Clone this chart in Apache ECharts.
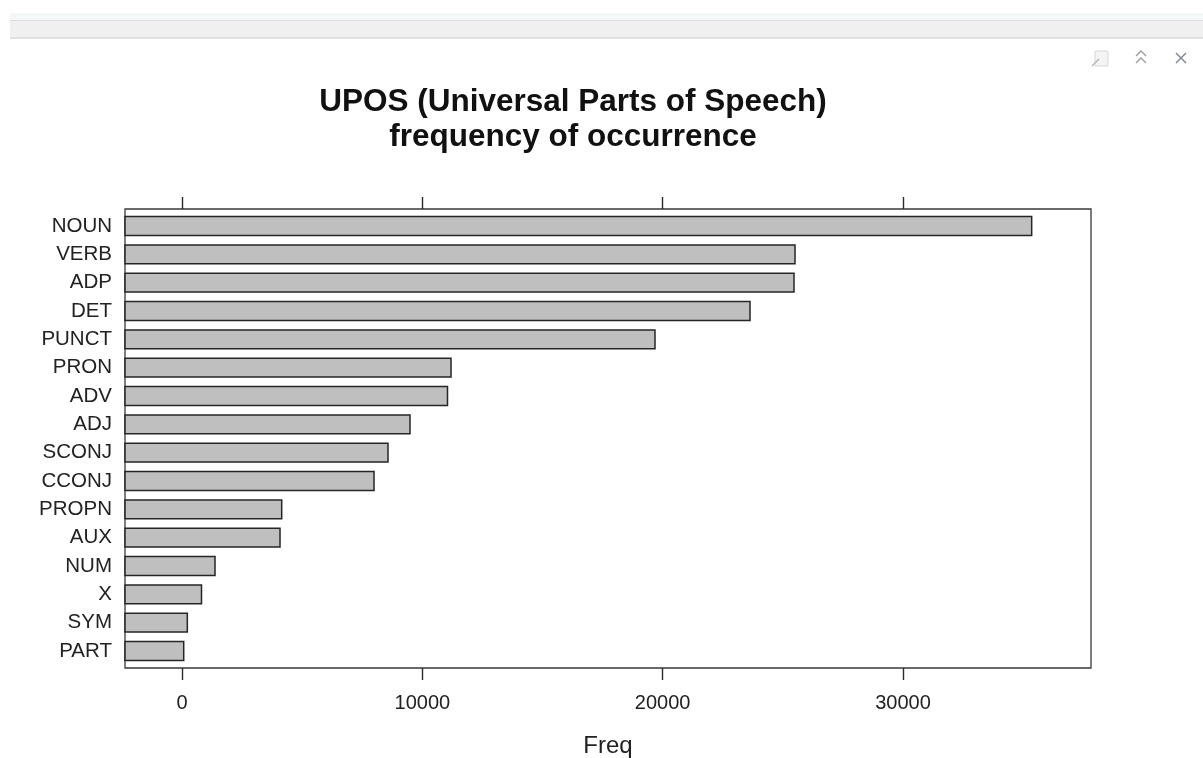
<!DOCTYPE html>
<html>
<head>
<meta charset="utf-8">
<title>UPOS frequency of occurrence</title>
<script src="https://cdn.jsdelivr.net/npm/echarts@6/dist/echarts.min.js"></script>
<style>
  html, body { margin: 0; padding: 0; background: #ffffff; }
  #chart { width: 1203px; height: 758px; }
</style>
</head>
<body>
<div id="chart"></div>
<script>
// Part-of-speech tags, top to bottom
const categories = ['NOUN', 'VERB', 'ADP', 'DET', 'PUNCT', 'PRON', 'ADV', 'ADJ',
  'SCONJ', 'CCONJ', 'PROPN', 'AUX', 'NUM', 'X', 'SYM', 'PART'];
// Token counts per tag
const freq = [35355, 25507, 25465, 23634, 19681, 11193, 11047, 9487,
  8571, 7989, 4148, 4078, 1373, 811, 221, 71];
// Tick marks on the Freq axis
const freqTicks = [0, 10000, 20000, 30000];
// Panel limits of the Freq axis
const freqMin = -2372;
const freqMax = 37823;

const FONT = '"Liberation Sans", Arial, Helvetica, sans-serif';

const chart = echarts.init(document.getElementById('chart'), null, { renderer: 'canvas' });

const panel = { left: 125, top: 209, width: 966, height: 459 };
// lattice pads the category scale by 0.6 of a row at each end
const rowUnit = panel.height / (categories.length + 0.2);
const barPanel = {
  left: panel.left,
  width: panel.width,
  top: panel.top + 0.1 * rowUnit,
  height: panel.height - 0.2 * rowUnit
};

const tickStyle = { show: true, inside: false, length: 12, customValues: freqTicks, lineStyle: { color: '#2a2a2a', width: 1.4 } };

const option = {
  backgroundColor: '#ffffff',
  animation: false,
  title: {
    text: 'UPOS (Universal Parts of Speech)\nfrequency of occurrence',
    left: 568,
    top: 80,
    textAlign: 'center',
    textStyle: {
      fontFamily: FONT,
      fontWeight: 'bold',
      fontSize: 31.5,
      lineHeight: 35,
      color: '#111'
    }
  },
  grid: [
    Object.assign({ show: true, borderColor: '#3a3a3a', borderWidth: 1.3, backgroundColor: 'transparent',
      containLabel: false, outerBoundsMode: 'none' }, panel),
    Object.assign({ show: false, containLabel: false, outerBoundsMode: 'none' }, barPanel)
  ],
  xAxis: [
    {
      gridIndex: 0, type: 'value', position: 'bottom', min: freqMin, max: freqMax,
      axisLine: { show: false },
      splitLine: { show: false },
      axisTick: tickStyle,
      axisLabel: {
        show: true, margin: 25, customValues: freqTicks,
        formatter: v => String(v),
        color: '#222', fontFamily: FONT, fontSize: 20
      },
      name: 'Freq',
      nameLocation: 'middle',
      nameGap: 66,
      nameTextStyle: { fontFamily: FONT, fontSize: 24, color: '#222' }
    },
    {
      gridIndex: 0, type: 'value', position: 'top', min: freqMin, max: freqMax,
      axisLine: { show: false },
      splitLine: { show: false },
      axisTick: tickStyle,
      axisLabel: { show: false }
    },
    {
      gridIndex: 1, type: 'value', min: freqMin, max: freqMax, show: false
    }
  ],
  yAxis: [
    { gridIndex: 0, type: 'value', min: 0, max: 1, show: false },
    {
      gridIndex: 1, type: 'category', data: categories, inverse: true,
      axisLine: { show: false },
      axisTick: { show: false },
      splitLine: { show: false },
      axisLabel: { margin: 13, color: '#222', fontFamily: FONT, fontSize: 20.5 }
    }
  ],
  series: [
    {
      type: 'custom',
      name: 'Freq',
      xAxisIndex: 2,
      yAxisIndex: 1,
      data: freq.map((v, i) => [v, i]),
      encode: { x: 0, y: 1 },
      renderItem: function (params, api) {
        const cat = api.value(1);
        const end = api.coord([api.value(0), cat]);
        const start = api.coord([freqMin, cat]);
        const h = api.size([0, 1])[1] * 2 / 3;
        return {
          type: 'rect',
          shape: { x: start[0], y: end[1] - h / 2, width: end[0] - start[0], height: h },
          style: { fill: '#bfbfbf', stroke: '#262626', lineWidth: 1.5 }
        };
      }
    }
  ],
  graphic: [
    // viewer toolbar strip
    { type: 'rect', silent: true, shape: { x: 10, y: 13, width: 1193, height: 7 }, style: { fill: '#f4f7f8' } },
    { type: 'rect', silent: true, shape: { x: 10, y: 20, width: 1193, height: 1 }, style: { fill: '#d9dde0' } },
    { type: 'rect', silent: true, shape: { x: 10, y: 21, width: 1193, height: 16 }, style: { fill: '#f0f0f0' } },
    { type: 'rect', silent: true, shape: { x: 10, y: 37, width: 1193, height: 2 }, style: { fill: '#e2e2e2' } },
    // pane buttons: pop out, collapse, close
    { type: 'rect', silent: true, shape: { x: 1095, y: 51, width: 13, height: 15, r: 1 }, style: { fill: '#f4f4f4', stroke: '#d6d6d6', lineWidth: 1 } },
    { type: 'polyline', silent: true, shape: { points: [[1092, 66], [1099, 59]] }, style: { stroke: '#b8b8b8', lineWidth: 1.5 } },
    { type: 'polyline', silent: true, shape: { points: [[1136, 56], [1141, 51], [1146, 56]] }, style: { stroke: '#9a9a9a', lineWidth: 1.3, fill: null } },
    { type: 'polyline', silent: true, shape: { points: [[1136, 63], [1141, 58], [1146, 63]] }, style: { stroke: '#9a9a9a', lineWidth: 1.3, fill: null } },
    { type: 'polyline', silent: true, shape: { points: [[1176, 53], [1186, 63]] }, style: { stroke: '#7f8594', lineWidth: 1.4 } },
    { type: 'polyline', silent: true, shape: { points: [[1186, 53], [1176, 63]] }, style: { stroke: '#7f8594', lineWidth: 1.4 } }
  ]
};

chart.setOption(option);
</script>
</body>
</html>
